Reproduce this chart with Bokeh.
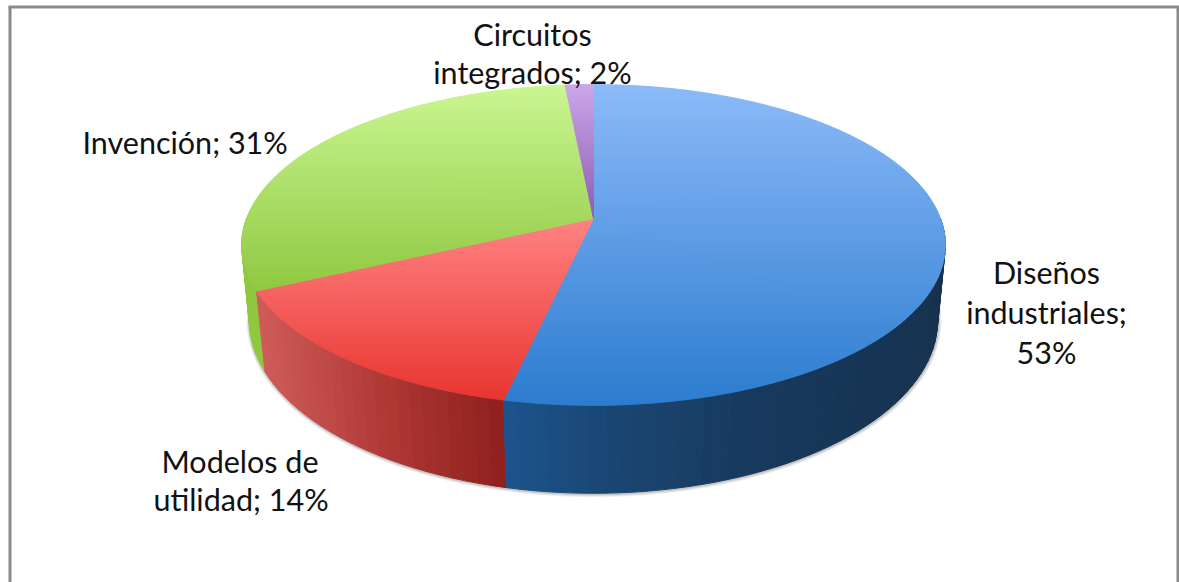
import math
from bokeh.embed import file_html
from bokeh.models import Range1d
from bokeh.plotting import figure
from bokeh.resources import INLINE
from bokeh.core.properties import value

# ---- data (clockwise from 12 o'clock) ----
categories = ["Diseños industriales", "Modelos de utilidad", "Invención", "Circuitos integrados"]
shares = [53.49, 14.4, 30.6, 1.51]
printed_percent = [53, 14, 31, 2]

# ---- labels: lines, anchor x, baseline y, alignment ----
label_lines = [
    ("Circuitos", 532, 45, "center"),
    (f"integrados; {printed_percent[3]}%", 532, 83, "center"),
    (f"Invención; {printed_percent[2]}%", 82, 153, "left"),
    ("Diseños", 1046, 283, "center"),
    ("industriales;", 1046, 323, "center"),
    (f"{printed_percent[0]}%", 1046, 363, "center"),
    ("Modelos de", 239.5, 472, "center"),
    (f"utilidad; {printed_percent[1]}%", 240.5, 510, "center"),
]
TEXT_SHIFT = -12

# ---- styles: top colour ramp (y0, y1, c0, c1), wall colour stops by t ----
top_style = [
    (85, 405, "#8cbaf9", "#2c7ccf"),
    (218, 405, "#ff8383", "#e8332d"),
    (85, 300, "#caf692", "#8dc63e"),
    (85, 218, "#cba6e8", "#8c5cb3"),
]
wall_style = [
    [(0.0, "#1c548c"), (0.25, "#1a4672"), (0.55, "#173a5e"), (1.0, "#16324f")],
    [(0.0, "#d05c5a"), (0.5, "#b03a36"), (1.0, "#8e1f1d")],
    [(0.0, "#8fc93f"), (1.0, "#82b936")],
    [(0.0, "#7a4f9c"), (1.0, "#7a4f9c")],
]

CX = 593
TOP = dict(A=347, B=156, C=218, k=0.165)
BOT = dict(A=340, B=168.8, C=293, k=0.155)


def project(frac, g):
    a = frac * 2 * math.pi
    X, Y = math.sin(a), math.cos(a)
    w = 1 + g["k"] * Y
    return CX + g["A"] * X / w, g["C"] - g["B"] * Y / w


def hex2rgb(h):
    return tuple(int(h[i:i + 2], 16) for i in (1, 3, 5))


def mix(c0, c1, t):
    t = max(0.0, min(1.0, t))
    a, b = hex2rgb(c0), hex2rgb(c1)
    return "#%02x%02x%02x" % tuple(round(a[i] + (b[i] - a[i]) * t) for i in range(3))


def ramp(stops, t):
    t = max(0.0, min(1.0, t))
    for (t0, c0), (t1, c1) in zip(stops, stops[1:]):
        if t <= t1:
            return mix(c0, c1, (t - t0) / (t1 - t0))
    return stops[-1][1]


def clip_half(poly, y, keep_below):
    out = []
    inside = (lambda p: p[1] >= y) if keep_below else (lambda p: p[1] <= y)
    for i, p in enumerate(poly):
        q = poly[(i + 1) % len(poly)]
        if inside(p):
            out.append(p)
        if inside(p) != inside(q):
            t = (y - p[1]) / (q[1] - p[1])
            out.append((p[0] + (q[0] - p[0]) * t, y))
    return out


def strip(poly, y0, y1):
    r = clip_half(poly, y0, True)
    return clip_half(r, y1, False) if r else r


# slice limits
edges = [0.0]
total = sum(shares)
for s in shares:
    edges.append(edges[-1] + s / total)

p = figure(width=1179, height=582, min_border=0,
           x_range=Range1d(0, 1179), y_range=Range1d(582, 0),
           x_axis_type=None, y_axis_type=None, toolbar_location=None,
           output_backend="svg", outline_line_color=None, background_fill_color="white",
           border_fill_color="white")
p.grid.visible = False

# frame (open at the bottom)
p.segment(x0=[8, 1177.5, 9.5], y0=[6.5, 6.5, 6.5], x1=[1179, 1177.5, 9.5], y1=[6.5, 582, 582],
          line_color="#8a8a8a", line_width=3)

# soft shadow round the base
base = [project(i / 360, BOT) for i in range(360)]
for lw, al in ((7, 0.07), (5, 0.10), (3, 0.16)):
    p.patch([q[0] + 0.5 for q in base], [q[1] + 0.5 for q in base], fill_alpha=0,
            line_color="#404040", line_alpha=al, line_width=lw)

# walls on the near half, back first so the front ones lie on top
walls = []
for i in range(len(shares)):
    f0, f1 = edges[i], edges[i + 1]
    n = max(2, int((f1 - f0) * 180))
    xs_arc = [project(f0 + (f1 - f0) * j / n, BOT)[0] for j in range(n + 1)]
    xmin, xmax = min(xs_arc), max(xs_arc)
    for j in range(n):
        a = f0 + (f1 - f0) * j / n
        b = f0 + (f1 - f0) * (j + 1) / n
        depth = math.cos((a + b) * math.pi)
        if depth > 0:
            continue
        t = (0.5 * (project(a, BOT)[0] + project(b, BOT)[0]) - xmin) / (xmax - xmin)
        pts = [project(a, TOP), project(b, TOP), project(b, BOT), project(a, BOT)]
        walls.append((depth, pts, ramp(wall_style[i], t)))
walls.sort(key=lambda w: -w[0])
p.patches([[q[0] for q in w[1]] for w in walls], [[q[1] for q in w[1]] for w in walls],
          fill_color=[w[2] for w in walls], line_color=[w[2] for w in walls], line_width=1)

# top face: each slice cut into horizontal strips that carry the ramp
fx, fy, fc = [], [], []
BAND = 3
for i in range(len(shares)):
    f0, f1 = edges[i], edges[i + 1]
    y0, y1, c0, c1 = top_style[i]
    parts = max(1, math.ceil((f1 - f0) * 4))
    for k in range(parts):
        a = f0 + (f1 - f0) * k / parts
        b = f0 + (f1 - f0) * (k + 1) / parts
        n = max(3, int((b - a) * 720))
        poly = [(CX, TOP["C"])] + [project(a + (b - a) * j / n, TOP) for j in range(n + 1)]
        ytop, ybot = min(q[1] for q in poly), max(q[1] for q in poly)
        y = math.floor(ytop)
        while y < ybot:
            s = strip(poly, y, y + BAND)
            if len(s) >= 3:
                col = mix(c0, c1, (y + BAND / 2 - y0) / (y1 - y0))
                fx.append([q[0] for q in s])
                fy.append([q[1] for q in s])
                fc.append(col)
            y += BAND
p.patches(fx, fy, fill_color=fc, line_color=fc, line_width=1)

# labels
for txt, x, y, al in label_lines:
    p.text([x], [y + TEXT_SHIFT], text=[txt], text_font=value("Lato"), text_font_size="30.5px",
           text_color="#111111", text_align=al, text_baseline="alphabetic")

open("out.html", "w").write(file_html(p, INLINE))
